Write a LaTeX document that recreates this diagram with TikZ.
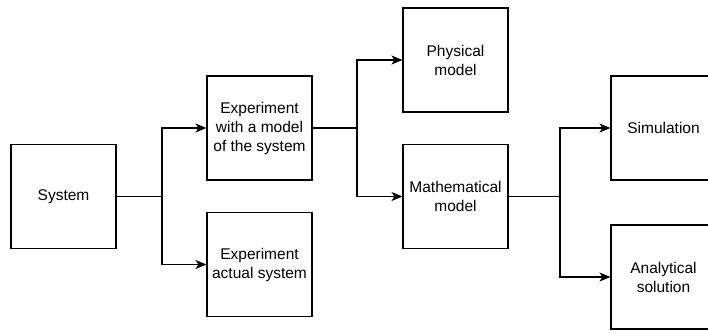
\documentclass[tikz,border=0pt]{standalone}
\usepackage{fontspec}
\setmainfont{Liberation Sans}
\usetikzlibrary{arrows.meta}
\begin{document}
\begin{tikzpicture}[x=1pt,y=-1pt,
  blk/.style={draw,line width=1.1pt,minimum width=105pt,minimum height=104pt,align=center,inner sep=0pt,font=\fontsize{15.5}{19}\selectfont},
  conn/.style={line width=1.1pt},
  arr/.style={conn,-{Stealth[length=11pt,width=9pt,inset=3pt]}}]
\useasboundingbox (0,0) rectangle (708,334);
\clip (0,0) rectangle (708,334);
\node[blk] (sys) at (63.5,196.5) {System};
\node[blk] (em) at (259.5,128) {Experiment\\with a model\\of the system};
\node[blk] (ea) at (259.5,264.5) {Experiment\\actual system};
\node[blk] (pm) at (455.5,60) {Physical\\model};
\node[blk] (mm) at (455.5,196.5) {Mathematical\\model};
\node[blk] (sim) at (663.5,128) {Simulation};
\node[blk] (an) at (663.5,277) {Analytical\\solution};
\coordinate (b1) at (162,196.5);
\coordinate (b2) at (357,128);
\coordinate (b3) at (560,196.5);
\draw[conn] (sys.east) -- (b1);
\draw[arr] (b1) |- (em.west);
\draw[arr] (b1) |- (ea.west);
\draw[conn] (em.east) -- (b2);
\draw[arr] (b2) |- (pm.west);
\draw[arr] (b2) |- (mm.west);
\draw[conn] (mm.east) -- (b3);
\draw[arr] (b3) |- (sim.west);
\draw[arr] (b3) |- (an.west);
\end{tikzpicture}
\end{document}
